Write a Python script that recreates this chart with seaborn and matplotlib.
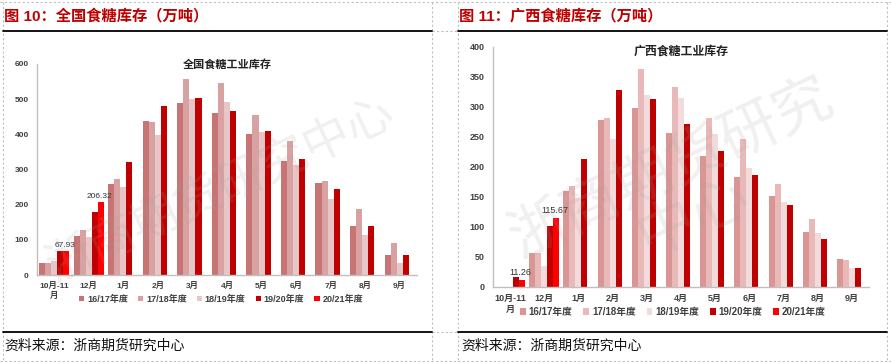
import numpy as np
import pandas as pd
import seaborn as sns
import matplotlib.pyplot as plt
from matplotlib.lines import Line2D
from matplotlib.patches import Patch

months = ['10月-11\n月', '12月', '1月', '2月', '3月', '4月', '5月', '6月', '7月', '8月', '9月']
seasons = ['16/17年度', '17/18年度', '18/19年度', '19/20年度', '20/21年度']
nan = np.nan

# 全国食糖工业库存
nat_1617 = [35, 112, 258, 439, 489, 460, 400, 324, 261, 140, 56]
nat_1718 = [35, 127, 272, 435, 558, 547, 454, 381, 268, 188, 91]
nat_1819 = [39, 108, 251, 397, 500, 491, 407, 313, 217, 114, 35]
nat_1920 = [69, 180, 320, 480, 502, 467, 410, 330, 245, 138, 56]
nat_2021 = [67.93, 206.32, nan, nan, nan, nan, nan, nan, nan, nan, nan]

# 广西食糖工业库存
gx_1617 = [nan, 57, 160, 279, 298, 257, 219, 183, 152, 91, 47]
gx_1718 = [nan, 57, 168, 281, 364, 333, 281, 247, 171, 114, 45]
gx_1819 = [nan, 35, 149, 247, 320, 315, 255, 198, 141, 90, 32]
gx_1920 = [16, 102, 214, 328, 313, 271, 227, 186, 136, 80, 31]
gx_2021 = [11.26, 115.67, nan, nan, nan, nan, nan, nan, nan, nan, nan]

nat_colors = ['#C87474', '#D9A2A2', '#E8C6C6', '#C00000', '#FF0000']
gx_colors = ['#D99694', '#E8B9B8', '#F2DCDB', '#C00000', '#FF0000']


def to_long(series):
    frames = []
    for s, vals in zip(seasons, series):
        frames.append(pd.DataFrame({'month': months, 'season': s, 'value': vals}))
    return pd.concat(frames).dropna()


sns.set_style('white')
plt.rcParams['font.family'] = ['Liberation Sans', 'Noto Sans CJK SC']

W, H = 891, 363
fig = plt.figure(figsize=(W / 100, H / 100), dpi=100)


def fx(x):
    return x / W


def fy(y):
    return 1 - y / H


def draw_panel(rect, df, colors, ymax, ystep, chart_title, title_y, labels, fs_tick, fs_leg, fs_title, leg_xy, leg_gap):
    ax = fig.add_axes(rect)
    sns.barplot(data=df, x='month', y='value', hue='season', order=months, hue_order=seasons,
                palette=colors, saturation=1, width=0.88, errorbar=None, legend=False,
                linewidth=0, ax=ax)
    ax.set_ylim(0, ymax)
    ax.set_yticks(np.arange(0, ymax + 1, ystep))
    ax.set_xlabel('')
    ax.set_ylabel('')
    for side in ['top', 'right']:
        ax.spines[side].set_visible(False)
    for side in ['left', 'bottom']:
        ax.spines[side].set_color('#BFBFBF')
        ax.spines[side].set_linewidth(1)
    ax.tick_params(length=0, colors='#404040')
    ax.tick_params(axis='y', pad=6)
    ax.tick_params(axis='x', pad=5)
    for t in ax.get_xticklabels() + ax.get_yticklabels():
        t.set_fontsize(fs_tick)
        t.set_fontweight('bold')
    ax.get_xticklabels()[0].set_linespacing(1.3)
    ax.text(0.5, title_y, chart_title, transform=ax.transAxes, ha='center', va='center',
            fontsize=fs_title, fontweight='bold', color='#222222')
    # data labels on the 20/21 bars
    for i, v in labels:
        ax.text(i + 0.3, v + ymax * 0.012, f'{v:.2f}', ha='center', va='bottom',
                fontsize=fs_tick, color='#333333')
    handles = [Patch(facecolor=c, edgecolor='none') for c in colors]
    ax.legend(handles, seasons, loc='center', bbox_to_anchor=leg_xy, bbox_transform=fig.transFigure,
              ncol=5, frameon=False, handlelength=0.6, handleheight=0.6, handletextpad=0.3,
              columnspacing=leg_gap, prop={'size': fs_leg, 'weight': 'bold'}, labelcolor='#404040')
    return ax


nat_df = to_long([nat_1617, nat_1718, nat_1819, nat_1920, nat_2021])
gx_df = to_long([gx_1617, gx_1718, gx_1819, gx_1920, gx_2021])

draw_panel([fx(37), fy(275), fx(417 - 37), (275 - 64) / H], nat_df, nat_colors, 600, 100,
           '全国食糖工业库存', 1.0, [(0, nat_2021[0]), (1, nat_2021[1])], 6, 6.5, 8,
           (fx(221), fy(299)), 1.1)
draw_panel([fx(493), fy(287), fx(869 - 493), (287 - 47) / H], gx_df, gx_colors, 400, 50,
           '广西食糖工业库存', 0.982, [(0, gx_2021[0]), (1, gx_2021[1])], 6.5, 7, 8.6,
           (fx(673), fy(312)), 1.1)

# headers
red = '#C00000'
fig.text(fx(4), fy(16), '图 10：全国食糖库存（万吨）', color=red, fontsize=11, fontweight='bold',
         va='center', ha='left')
fig.text(fx(459), fy(16), '图 11：广西食糖库存（万吨）', color=red, fontsize=11, fontweight='bold',
         va='center', ha='left')
fig.text(fx(4), fy(346), '资料来源：浙商期货研究中心', color='#111111', fontsize=10, va='center', ha='left',
         fontweight='light')
fig.text(fx(461), fy(346), '资料来源：浙商期货研究中心', color='#111111', fontsize=10, va='center', ha='left',
         fontweight='light')

# watermarks
wm = dict(color='#A0A0A0', alpha=0.16, rotation=25, rotation_mode='anchor', ha='center', va='center',
          fontfamily='Noto Sans CJK SC', fontweight='light')
fig.text(fx(220), fy(190), '浙商期货研究中心', fontsize=34, **wm)
fig.text(fx(682), fy(192), '浙商期货研究\n中心', fontsize=42, linespacing=0.8, multialignment='center', **wm)

# frame lines
dash = dict(color='#BFBFBF', lw=0.8, linestyle=(0, (2, 2)))
solid = dict(color='black', lw=1.3)
for x in [3, 432, 458, 887]:
    fig.add_artist(Line2D([fx(x), fx(x)], [fy(2), fy(362)], **dash))
fig.add_artist(Line2D([fx(0), fx(891)], [fy(2), fy(2)], **dash))
fig.add_artist(Line2D([fx(0), fx(891)], [fy(361), fy(361)], **dash))
for y in [31, 332]:
    fig.add_artist(Line2D([fx(432), fx(458)], [fy(y), fy(y)], **dash))
    fig.add_artist(Line2D([fx(3), fx(432)], [fy(y), fy(y)], **solid))
    fig.add_artist(Line2D([fx(458), fx(887)], [fy(y), fy(y)], **solid))

fig.savefig('out.png', dpi=100)
